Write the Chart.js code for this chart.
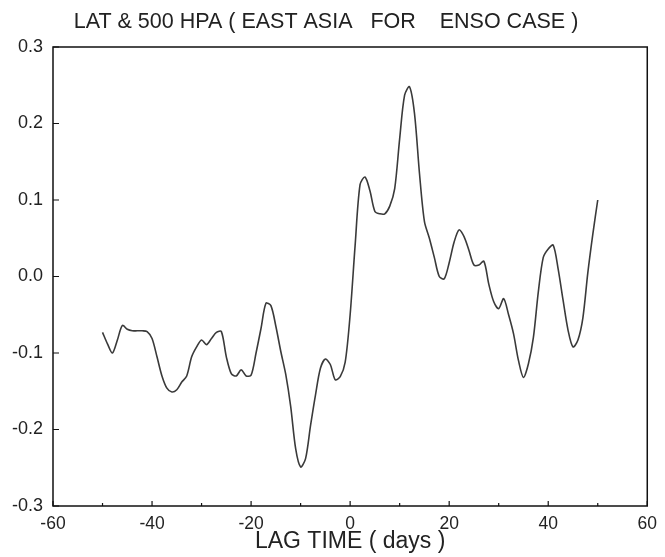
<!DOCTYPE html>
<html>
<head>
<meta charset="utf-8">
<script src="https://cdn.jsdelivr.net/npm/chart.js@4.4.1/dist/chart.umd.min.js"></script>
<style>
  html, body { margin: 0; padding: 0; background: #fff; }
  #wrap { width: 665px; height: 557px; }
</style>
</head>
<body>
<div id="wrap"><canvas id="lagChart"></canvas></div>
<script>
// lag time in days
const lagDays = [
  -50,-49,-48,-47,-46,-45,-44,-43,-42,-41,
  -40,-39,-38,-37,-36,-35,-34,-33,-32,-31,
  -30,-29,-28,-27,-26,-25,-24,-23,-22,-21,
  -20,-19,-18,-17,-16,-15,-14,-13,-12,-11,
  -10,-9,-8,-7,-6,-5,-4,-3,-2,-1,
  0,1,2,3,4,5,6,7,8,9,
  10,11,12,13,14,15,16,17,18,19,
  20,21,22,23,24,25,26,27,28,29,
  30,31,32,33,34,35,36,37,38,39,
  40,41,42,43,44,45,46,47,48,49,
  50
];

// lag correlation, LAT & 500 hPa (East Asia, ENSO case)
const corrValues = [
  -0.073,-0.088,-0.100,-0.083,-0.064,-0.069,-0.071,-0.071,-0.071,-0.072,
  -0.081,-0.105,-0.130,-0.146,-0.151,-0.148,-0.138,-0.130,-0.105,-0.092,
  -0.083,-0.089,-0.081,-0.073,-0.072,-0.105,-0.127,-0.130,-0.122,-0.130,
  -0.129,-0.100,-0.068,-0.035,-0.038,-0.065,-0.098,-0.128,-0.170,-0.225,
  -0.249,-0.238,-0.195,-0.155,-0.120,-0.108,-0.115,-0.135,-0.131,-0.112,
  -0.050,0.040,0.120,0.130,0.112,0.085,0.082,0.082,0.092,0.115,
  0.180,0.237,0.248,0.213,0.135,0.072,0.050,0.025,0.000,-0.003,
  0.018,0.045,0.061,0.052,0.034,0.015,0.015,0.020,-0.010,-0.033,
  -0.042,-0.029,-0.050,-0.075,-0.110,-0.132,-0.114,-0.080,-0.020,0.025,
  0.036,0.041,0.010,-0.031,-0.070,-0.092,-0.083,-0.054,0.005,0.055,
  0.100
];

const xTicks = [-60, -40, -20, 0, 20, 40, 60];
const xMinorTicks = [-50, -30, -10, 10, 30, 50];
const yTicks = [-0.3, -0.2, -0.1, 0.0, 0.1, 0.2, 0.3];

const points = lagDays.map((d, i) => ({ x: d, y: corrValues[i] }));

// frame + inward tick marks like the original plot
const framePlugin = {
  id: 'frame',
  afterDraw(chart) {
    const ctx = chart.ctx;
    const a = chart.chartArea;
    const xs = chart.scales.x, ys = chart.scales.y;
    ctx.save();
    ctx.strokeStyle = '#111';
    ctx.lineWidth = 1.5;
    ctx.strokeRect(a.left, a.top, a.right - a.left, a.bottom - a.top);
    ctx.lineWidth = 1.2;
    ctx.beginPath();
    xTicks.forEach(v => {
      const px = xs.getPixelForValue(v);
      ctx.moveTo(px, a.bottom); ctx.lineTo(px, a.bottom - 5);
    });
    xMinorTicks.forEach(v => {
      const px = xs.getPixelForValue(v);
      ctx.moveTo(px, a.bottom); ctx.lineTo(px, a.bottom - 3);
    });
    yTicks.forEach(v => {
      const py = ys.getPixelForValue(v);
      ctx.moveTo(a.left, py); ctx.lineTo(a.left + 6, py);
    });
    ctx.stroke();
    ctx.restore();
  }
};

const config = {
  type: 'line',
  data: {
    datasets: [{
      data: points,
      borderColor: '#3a3a3a',
      borderWidth: 1.6,
      pointRadius: 0,
      tension: 0.3,
      fill: false
    }]
  },
  options: {
    responsive: true,
    maintainAspectRatio: false,
    animation: false,
    layout: { padding: { left: 0, right: 13, top: 0, bottom: 0 } },
    plugins: {
      legend: { display: false },
      tooltip: { enabled: false },
      title: {
        display: true,
        text: 'LAT & 500 HPA ( EAST ASIA   FOR    ENSO CASE )',
        color: '#222',
        font: { family: 'Liberation Sans', size: 21.5, weight: 'normal' },
        padding: { top: 9.5, bottom: 11.7 }
      }
    },
    scales: {
      x: {
        type: 'linear',
        min: -60,
        max: 60,
        afterBuildTicks: s => { s.ticks = xTicks.map(v => ({ value: v })); },
        afterFit: s => { s.height = 51; },
        grid: { display: false, drawTicks: false },
        border: { display: false },
        ticks: {
          color: '#222',
          padding: 8,
          maxRotation: 0,
          font: { family: 'Liberation Sans', size: 17.5 }
        },
        title: {
          display: true,
          text: 'LAG TIME ( days )',
          color: '#222',
          font: { family: 'Liberation Sans', size: 23 },
          padding: { top: 0, bottom: 2 }
        }
      },
      y: {
        min: -0.3,
        max: 0.3,
        afterBuildTicks: s => { s.ticks = yTicks.map(v => ({ value: v })); },
        afterFit: s => { s.width = 53; },
        grid: { display: false, drawTicks: false },
        border: { display: false },
        ticks: {
          color: '#222',
          padding: 10,
          font: { family: 'Liberation Sans', size: 18 },
          callback: v => (Math.abs(v) < 1e-9 ? 0 : v).toFixed(1)
        }
      }
    }
  },
  plugins: [framePlugin]
};

const myChart = new Chart(document.getElementById('lagChart'), config);
</script>
</body>
</html>
